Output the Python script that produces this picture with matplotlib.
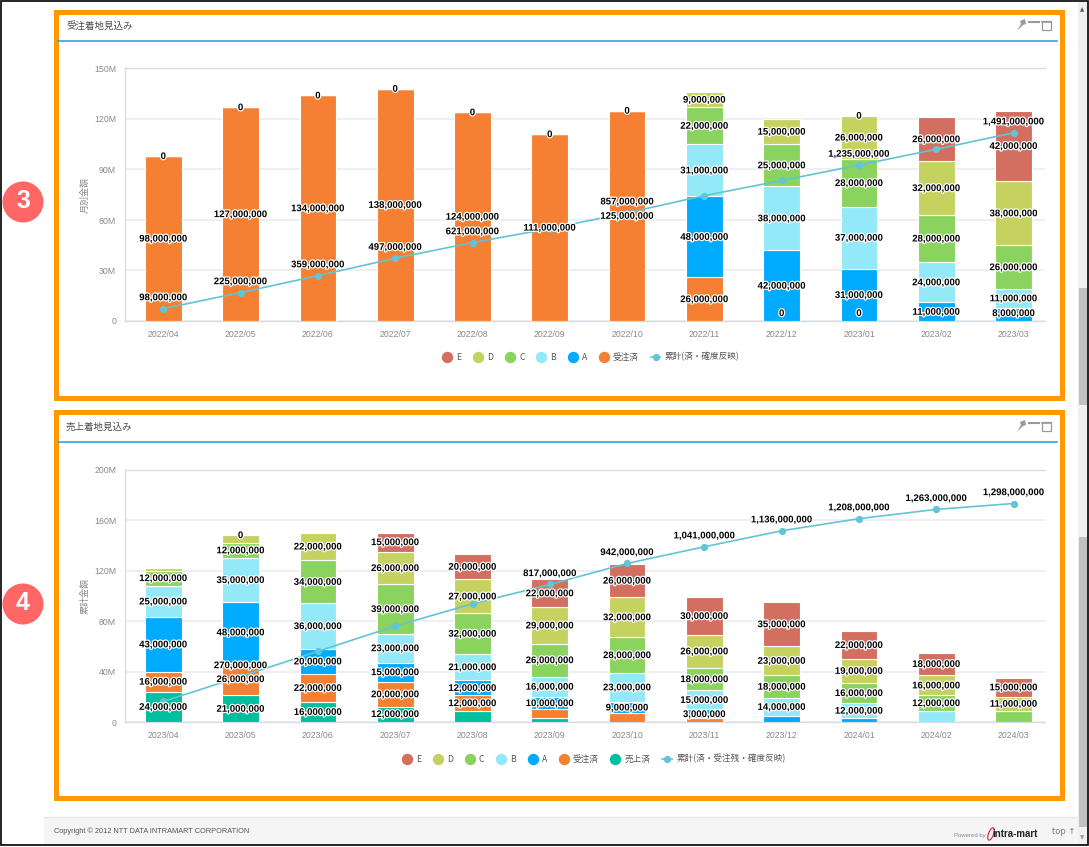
"""Two stacked landing-forecast dashboards with cumulative lines."""
import matplotlib

matplotlib.use("Agg")
import matplotlib.patheffects as pe
import matplotlib.pyplot as plt
import numpy as np
from matplotlib.lines import Line2D
from matplotlib.patches import Circle, Ellipse, Polygon, Rectangle

W, H = 1089, 847
LABEL_FONT = ["Liberation Sans"]
JP_FONT = ["Noto Sans CJK JP", "DejaVu Sans"]
plt.rcParams["font.family"] = ["Liberation Sans", "Noto Sans CJK JP"]

COLORS = {"E": "#D26F60", "D": "#C5D25F", "C": "#8BD35F", "B": "#94E9F8", "A": "#00AAFF",
          "受注済": "#F57F32", "売上済": "#00BF9F"}
LINE_COLOR = "#62C4D6"

# upper chart, millions of yen (None = no point in the series)
months_1 = ["2022/04", "2022/05", "2022/06", "2022/07", "2022/08", "2022/09",
            "2022/10", "2022/11", "2022/12", "2023/01", "2023/02", "2023/03"]
order_1 = [98, 127, 134, 138, 124, 111, 125, 26, 0, 0, None, None]
a_1 = [0, 0, 0, 0, 0, 0, 0, 48, 42, 31, 11, 8]
b_1 = [None, None, None, None, None, None, None, 31, 38, 37, 24, 11]
c_1 = [None, None, None, None, None, None, None, 22, 25, 28, 28, 26]
d_1 = [None, None, None, None, None, None, None, 9, 15, 26, 32, 38]
e_1 = [None, None, None, None, None, None, None, None, None, 0, 26, 42]
cum_1 = [98, 225, 359, 497, 621, 732, 857, 993, 1113, 1235, 1360, 1491]
cum_shown_1 = [0, 1, 2, 3, 4, 6, 9, 11]
hidden_1 = []

# lower chart
months_2 = ["2023/04", "2023/05", "2023/06", "2023/07", "2023/08", "2023/09",
            "2023/10", "2023/11", "2023/12", "2024/01", "2024/02", "2024/03"]
sales_2 = [24, 21, 16, 12, 9, 3, None, None, None, None, None, None]
order_2 = [16, 26, 22, 20, 12, 7, 7, 3, None, None, None, None]
a_2 = [43, 48, 20, 15, 12, 10, 9, 7, 5, 3, None, None]
b_2 = [25, 35, 36, 23, 21, 16, 23, 15, 14, 12, 9, None]
c_2 = [12, 12, 34, 39, 32, 26, 28, 18, 18, 16, 12, 9]
d_2 = [2, 6, 22, 26, 27, 29, 32, 26, 23, 19, 16, 11]
e_2 = [None, 0, None, 15, 20, 22, 26, 30, 35, 22, 18, 15]
cum_2 = [122, 270, 420, 570, 702, 817, 942, 1041, 1136, 1208, 1263, 1298]
cum_shown_2 = [1, 5, 6, 7, 8, 9, 10, 11]
hidden_2 = [("D", 0), ("D", 1), ("売上済", 4), ("売上済", 5), ("受注済", 5), ("受注済", 6),
            ("A", 7), ("A", 8), ("A", 9), ("B", 10), ("C", 11)]

ticks_1 = [0, 30, 60, 90, 120, 150]
ticks_2 = [0, 40, 80, 120, 160, 200]


def outlined(ax, x, y, text, **kw):
    ax.annotate(text, (x, y), ha="center", va="center", fontsize=6.9, color="black",
                family=LABEL_FONT, weight="bold", zorder=10, annotation_clip=False,
                path_effects=[pe.withStroke(linewidth=1.8, foreground="white")], **kw)


def draw_panel(fig, bg, frame_top, top, title, ylabel, months, stack, ticks, cum, cum_max,
               cum_shown, hidden, line_name, legend_y, legend_x):
    # orange frame, header and toolbar icons
    bg.add_patch(Rectangle((55.5, frame_top + 2.5), 1006, 386, fc="white", ec="#FF9900", lw=3.6,
                           zorder=1))
    bg.text(66, top + 16, title, fontsize=6.8, color="#4A4A4A", va="center", family=JP_FONT,
            zorder=2)
    bg.plot([58, 1057], [top + 31, top + 31], color="#2FA3E0", lw=1.2, zorder=2)
    bg.add_patch(Polygon([(1017, top + 21), (1021, top + 14), (1020, top + 11), (1025, top + 9),
                          (1026, top + 14), (1023, top + 15)], fc="#999999", ec="none", zorder=2))
    bg.plot([1029, 1039], [top + 12, top + 12], color="#999999", lw=1.5, zorder=2)
    bg.add_patch(Rectangle((1042, top + 11), 9, 9, fc="white", ec="#999999", lw=0.9, zorder=2))
    bg.plot([1042, 1051], [top + 12, top + 12], color="#999999", lw=1.2, zorder=2)

    left, right, y0, y1 = 124.5, 1045, top + 58.5, top + 311
    ax = fig.add_axes([left / W, 1 - y1 / H, (right - left) / W, (y1 - y0) / H], zorder=3)
    ax.patch.set_alpha(0)
    step, first = 77.3, 163.3
    ax.set_xlim((left - first) / step, (right - first) / step)
    ax.set_ylim(0, ticks[-1])
    x = np.arange(len(months))

    ax2 = ax.twinx()
    ax2.set_ylim(0, cum_max)
    ax2.set_yticks([])
    ax2.patch.set_alpha(0)
    for side in ax2.spines.values():
        side.set_visible(False)

    bottom = np.zeros(len(months))
    min_label = 8 / (y1 - y0) * ticks[-1]
    for name, series in stack:
        vals = np.array([np.nan if v is None else v for v in series], dtype=float)
        ax.bar(x, np.nan_to_num(vals), 0.475, bottom=bottom, color=COLORS[name],
               edgecolor="white", linewidth=0.8, zorder=3)
        for i, v in enumerate(series):
            if v is None or (name, i) in hidden:
                continue
            y = max(bottom[i] + v / 2, min_label)
            outlined(ax2, x[i], y, "0" if v == 0 else f"{v * 1000000:,}", xycoords=ax.transData)
        bottom += np.nan_to_num(vals)

    ax2.plot(x, cum, color=LINE_COLOR, lw=1.2, marker="o", ms=4.2, zorder=5)
    for i in cum_shown:
        outlined(ax2, x[i], cum[i], f"{cum[i] * 1000000:,}", xytext=(0, 8.2),
                 textcoords="offset points")

    ax.set_xticks(x, months)
    ax.set_yticks(ticks, ["0" if t == 0 else f"{t}M" for t in ticks])
    ax.tick_params(axis="both", length=0, labelsize=6.3, labelcolor="#8A8A8A")
    ax.tick_params(axis="x", pad=6.5)
    ax.tick_params(axis="y", pad=6)
    ax.grid(axis="y", color="#EFEFF2", lw=1.4, zorder=0)
    ax.set_axisbelow(True)
    for name, side in ax.spines.items():
        side.set_visible(name in ("left", "bottom", "top"))
        side.set_color("#D8DCE6")
        side.set_linewidth(1)
    bg.text(85, (y0 + y1) / 2, ylabel, rotation=90, fontsize=6.5, color="#8A8A8A", ha="center",
            va="center", family=JP_FONT, zorder=2)

    handles = [Line2D([], [], ls="", marker="o", ms=7.2, color=COLORS[n], label=n)
               for n, _ in reversed(stack)]
    handles.append(Line2D([], [], color=LINE_COLOR, lw=1.2, marker="o", ms=4.2, label=line_name))
    ax.legend(handles=handles, loc="center", ncol=len(handles), frameon=False,
              bbox_to_anchor=(legend_x / W, 1 - legend_y / H), bbox_transform=fig.transFigure,
              prop={"family": JP_FONT, "size": 6.2}, labelcolor="#555555", handlelength=1.1,
              handletextpad=0.5, columnspacing=1.4, borderpad=0)


def main():
    fig = plt.figure(figsize=(W / 100, H / 100), dpi=100, facecolor="white")
    bg = fig.add_axes([0, 0, 1, 1], zorder=0)
    bg.set_xlim(0, W)
    bg.set_ylim(H, 0)
    bg.axis("off")

    # page chrome
    bg.add_patch(Rectangle((44, 817), 1034, 28, fc="#F5F5F5", ec="none", zorder=0))
    bg.plot([44, 1078], [817, 817], color="#E8E8E8", lw=1, zorder=0)
    bg.add_patch(Rectangle((1078, 2), 9.5, 843, fc="#F0F0F0", ec="none", zorder=0))
    for y_from, y_to in [(288, 405), (537, 827)]:
        bg.add_patch(Rectangle((1078.5, y_from), 8.5, y_to - y_from, fc="#C1C1C1", ec="none",
                               zorder=1))
    bg.text(1082.5, 9.5, "▲", fontsize=4, color="#555555", ha="center", va="center",
            family="DejaVu Sans")
    bg.text(1082.5, 838, "▼", fontsize=4, color="#999999", ha="center", va="center",
            family="DejaVu Sans")
    bg.add_patch(Rectangle((1, 1), 1087, 844.5, fc="none", ec="black", lw=1.2, zorder=6))

    for cy, num in [(202, "3"), (604, "4")]:
        bg.add_patch(Circle((23, cy), 20.5, fc="#FF6666", ec="none", zorder=2))
        bg.text(23, cy - 0.5, num, color="white", fontsize=18, ha="center", va="center", zorder=3,
                family="Liberation Sans", weight="bold")

    draw_panel(fig, bg, 10, 10, "受注着地見込み", "月別金額", months_1,
               [("受注済", order_1), ("A", a_1), ("B", b_1), ("C", c_1), ("D", d_1), ("E", e_1)],
               ticks_1, cum_1, 2000, cum_shown_1, hidden_1, "累計(済・確度反映)", 357, 591)
    draw_panel(fig, bg, 410, 411, "売上着地見込み", "累計金額", months_2,
               [("売上済", sales_2), ("受注済", order_2), ("A", a_2), ("B", b_2), ("C", c_2),
                ("D", d_2), ("E", e_2)],
               ticks_2, cum_2, 1500, cum_shown_2, hidden_2, "累計(済・受注残・確度反映)", 759, 594)

    bg.text(54, 831, "Copyright © 2012 NTT DATA INTRAMART CORPORATION", fontsize=5.3,
            color="#555555", va="center", family=LABEL_FONT)
    bg.text(954, 836, "Powered by", fontsize=4.3, color="#888888", va="center", family=LABEL_FONT)
    bg.add_patch(Ellipse((991, 834), 5, 13, angle=20, fc="none", ec="#D8202C", lw=0.8, zorder=2))
    bg.text(992, 834, "intra-mart", fontsize=7, color="#222222", va="center", weight="bold",
            family=LABEL_FONT)
    bg.text(1052, 831, "top ↑", fontsize=6, color="#777777", va="center", family="DejaVu Sans")

    fig.savefig("out.png", dpi=100, facecolor="white")
    plt.close(fig)


if __name__ == "__main__":
    main()
